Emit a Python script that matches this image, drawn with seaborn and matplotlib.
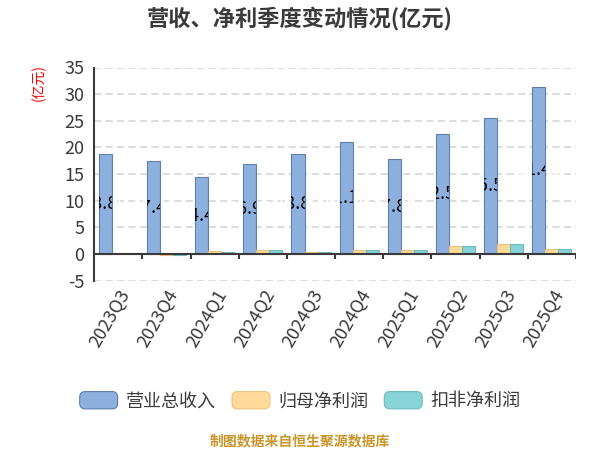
import seaborn as sns
import matplotlib.pyplot as plt
import pandas as pd
from matplotlib.patches import Patch, FancyBboxPatch
from matplotlib.legend_handler import HandlerPatch

# Values (亿元)
quarters = ['2023Q3', '2023Q4', '2024Q1', '2024Q2', '2024Q3',
            '2024Q4', '2025Q1', '2025Q2', '2025Q3', '2025Q4']
revenue = [18.8, 17.4, 14.4, 16.9, 18.8, 21.1, 17.8, 22.5, 25.5, 31.4]
net_profit = [0.3, -0.1, 0.6, 0.85, 0.35, 0.85, 0.85, 1.45, 1.9, 1.0]
deducted_profit = [0.05, -0.2, 0.45, 0.85, 0.4, 0.85, 0.7, 1.45, 1.9, 1.0]
series_names = ['营业总收入', '归母净利润', '扣非净利润']
colors = ['#8eb0de', '#ffda99', '#87d4d8']
edge_colors = ['#5f7fb0', '#e8c27e', '#6fbcc0']

df = pd.DataFrame({
    '季度': quarters * 3,
    '数值': revenue + net_profit + deducted_profit,
    '指标': [n for n in series_names for _ in quarters],
})

sns.set_style('white')
plt.rcParams['font.family'] = ['Noto Sans CJK SC', 'DejaVu Sans']
plt.rcParams['axes.unicode_minus'] = False

text_color = '#3a3a3a'
fig = plt.figure(figsize=(6, 4.5), dpi=100)
ax = fig.add_axes([0.157, 0.376, 0.803, 0.474])

sns.barplot(data=df, x='季度', y='数值', hue='指标', palette=colors,
            saturation=1, width=0.81, gap=0, ax=ax, legend=False, zorder=2)
for cont, ec in zip(ax.containers, edge_colors):
    for bar in cont:
        bar.set_edgecolor(ec)
        bar.set_linewidth(0.8)

# revenue labels: white text, dark only where it sits on the bar
for bar, v in zip(ax.containers[0], revenue):
    cx = bar.get_x() + bar.get_width() / 2
    label = f'{v:.2f}'
    ax.text(cx, v / 2, label, ha='center', va='center', fontsize=13,
            color='white', zorder=1.5)
    t = ax.text(cx, v / 2, label, ha='center', va='center', fontsize=13,
                color='black', zorder=3, clip_on=True)
    t.set_clip_path(bar)

ax.set_ylim(-5, 35)
ax.set_xlim(-0.5, len(quarters) - 0.5)
ax.set_yticks(range(-5, 40, 5))
ax.grid(axis='y', color='#dddddd', linestyle=(0, (3.5, 2)), linewidth=1.5)
ax.set_axisbelow(True)

for s in ['top', 'right', 'bottom']:
    ax.spines[s].set_visible(False)
ax.spines['left'].set_color(text_color)
ax.spines['left'].set_linewidth(1.5)
ax.axhline(0, color=text_color, linewidth=1.5, zorder=4)
ax.vlines([i + 0.5 for i in range(len(quarters))], -0.9, 0,
          color=text_color, linewidth=1.5, zorder=4)

ax.tick_params(axis='y', length=6, width=1.5, color=text_color,
               labelsize=13, labelcolor=text_color, pad=1)
ax.tick_params(axis='x', length=0, labelsize=13, labelcolor=text_color, pad=4)
plt.setp(ax.get_xticklabels(), rotation=60, ha='right', rotation_mode='anchor')
ax.set_xlabel('')
ax.set_ylabel('(亿元)', color='red', fontsize=10)
ax.yaxis.set_label_coords(-0.1, 0.93)

fig.suptitle('营收、净利季度变动情况(亿元)', fontsize=16, fontweight='bold',
             color=text_color, y=0.985)


class RoundBox(HandlerPatch):
    def create_artists(self, legend, orig, xd, yd, w, h, fs, trans):
        p = FancyBboxPatch((-xd, -yd), w, h,
                           boxstyle='round,pad=0,rounding_size=4',
                           fc=orig.get_facecolor(), ec=orig.get_edgecolor(),
                           lw=0.8, transform=trans)
        return [p]


handles = [Patch(facecolor=c, edgecolor=e, label=n)
           for c, e, n in zip(colors, edge_colors, series_names)]
leg = fig.legend(handles=handles, loc='center', bbox_to_anchor=(0.5, 0.109),
                 ncol=3, frameon=False, fontsize=13, handlelength=2.1,
                 handleheight=1.1, handletextpad=0.45, columnspacing=0.9,
                 handler_map={Patch: RoundBox()})
for t in leg.get_texts():
    t.set_color(text_color)

fig.text(0.5, 0.02, '制图数据来自恒生聚源数据库', ha='center', va='center',
         fontsize=10, fontweight='bold', color='#c8962a')

plt.savefig('out.png', dpi=100, transparent=True)
plt.close()
